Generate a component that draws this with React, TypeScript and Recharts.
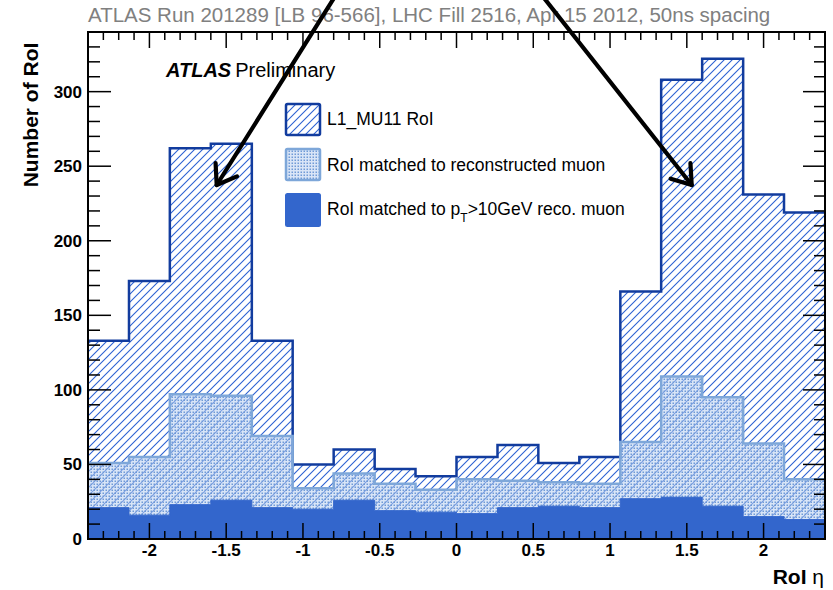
import React from 'react';
import { AreaChart, Area, XAxis, YAxis } from 'recharts';

// Histogram bin edges in RoI eta (18 bins)
const binEdges = [
  -2.4, -2.133, -1.867, -1.6, -1.333, -1.067, -0.8, -0.533, -0.267, 0,
  0.267, 0.533, 0.8, 1.067, 1.333, 1.6, 1.867, 2.133, 2.4,
];

// Counts per bin
const l1RoiCounts = [133, 173, 262, 265, 133, 50, 60, 47, 42, 55, 63, 51, 55, 166, 308, 322, 231, 219];
const recoMatchedCounts = [51, 55, 97, 96, 69, 34, 44, 37, 33, 40, 39, 38, 37, 65, 109, 95, 64, 40];
const ptMatchedCounts = [21, 16, 23, 26, 21, 20, 26, 19, 18, 17, 21, 22, 21, 27, 28, 22, 15, 13];

const etaMajorTicks = [-2, -1.5, -1, -0.5, 0, 0.5, 1, 1.5, 2];
const countMajorTicks = [0, 50, 100, 150, 200, 250, 300];

const etaMinorTicks = Array.from({ length: 49 }, (_, i) => Math.round((-2.4 + i * 0.1) * 10) / 10);
const countMinorTicks = Array.from({ length: 35 }, (_, i) => i * 10);

const ETA_RANGE: [number, number] = [-2.4, 2.4];
const COUNT_RANGE: [number, number] = [0, 340];

// step histogram: one point per edge, last bin repeated at the right edge
const histData = binEdges.map((eta, i) => {
  const k = Math.min(i, l1RoiCounts.length - 1);
  return { eta, l1: l1RoiCounts[k], reco: recoMatchedCounts[k], pt: ptMatchedCounts[k] };
});

// chart layout
const CHART_W = 833;
const CHART_H = 590;
const MARGIN = { top: 32, right: 8, bottom: 21, left: 28 };
const Y_AXIS_W = 60;
const X_AXIS_H = 30;
const PLOT_LEFT = MARGIN.left + Y_AXIS_W;
const PLOT_TOP = MARGIN.top;
const PLOT_W = CHART_W - PLOT_LEFT - MARGIN.right;
const PLOT_H = CHART_H - MARGIN.top - MARGIN.bottom - X_AXIS_H;

const DARK_BLUE = '#123c9e';
const HATCH_BLUE = '#2d62d2';
const LIGHT_BLUE = '#7ea7d9';
const SOLID_BLUE = '#3366cc';
const FONT = '"Liberation Sans", Arial, Helvetica, sans-serif';

const isMajor = (v: number, majors: number[]) => majors.some((m) => Math.abs(m - v) < 1e-6);

// ROOT style: ticks point inwards, mirrored on the opposite edge
function BottomTick({ x, y, payload }: any) {
  const major = isMajor(payload.value, etaMajorTicks);
  const len = major ? 16 : 8;
  const top = y - PLOT_H;
  return (
    <g>
      <line x1={x} x2={x} y1={y} y2={y - len} stroke="#000" strokeWidth={1.5} />
      <line x1={x} x2={x} y1={top} y2={top + len} stroke="#000" strokeWidth={1.5} />
      {major && (
        <text x={x} y={y + 17} textAnchor="middle" fontSize={17} fontWeight="bold" fill="#000" fontFamily={FONT}>
          {String(payload.value)}
        </text>
      )}
    </g>
  );
}

function LeftTick({ x, y, payload }: any) {
  const major = isMajor(payload.value, countMajorTicks);
  const right = x + PLOT_W;
  return (
    <g>
      <line x1={x} x2={x + (major ? 23 : 12)} y1={y} y2={y} stroke="#000" strokeWidth={1.5} />
      <line x1={right} x2={right - (major ? 22 : 11)} y1={y} y2={y} stroke="#000" strokeWidth={1.5} />
      {major && (
        <text x={x - 6} y={y + 6} textAnchor="end" fontSize={17} fontWeight="bold" fill="#000" fontFamily={FONT}>
          {String(payload.value)}
        </text>
      )}
    </g>
  );
}

function Arrow({ from, tip }: { from: [number, number]; tip: [number, number] }) {
  const dx = from[0] - tip[0];
  const dy = from[1] - tip[1];
  const len = Math.hypot(dx, dy);
  const ux = dx / len;
  const uy = dy / len;
  const a = (35 * Math.PI) / 180;
  const w = 22;
  const w1: [number, number] = [tip[0] + w * (ux * Math.cos(a) - uy * Math.sin(a)), tip[1] + w * (ux * Math.sin(a) + uy * Math.cos(a))];
  const w2: [number, number] = [tip[0] + w * (ux * Math.cos(a) + uy * Math.sin(a)), tip[1] + w * (-ux * Math.sin(a) + uy * Math.cos(a))];
  return (
    <g stroke="#000" strokeWidth={4.2} fill="none" strokeLinecap="round" strokeLinejoin="round">
      <line x1={from[0]} y1={from[1]} x2={tip[0]} y2={tip[1]} />
      <polyline points={`${w1[0]},${w1[1]} ${tip[0]},${tip[1]} ${w2[0]},${w2[1]}`} />
    </g>
  );
}

function Patterns({ prefix }: { prefix: string }) {
  return (
    <defs>
      <pattern id={`${prefix}Hatch`} patternUnits="userSpaceOnUse" width="8" height="8">
        <path d="M-2,2 L2,-2 M0,8 L8,0 M6,10 L10,6" stroke={HATCH_BLUE} strokeWidth={1.1} fill="none" />
      </pattern>
      <pattern id={`${prefix}Dots`} patternUnits="userSpaceOnUse" width="3" height="3">
        <rect width="3" height="3" fill="#b9cff0" fillOpacity={0.55} />
        <rect x="0.5" y="0.5" width="1.5" height="1.5" fill="#6f9ad6" />
      </pattern>
    </defs>
  );
}

function Overlay() {
  return (
    <svg
      width={CHART_W}
      height={CHART_H}
      style={{ position: 'absolute', left: 0, top: 0, pointerEvents: 'none' }}
      fontFamily={FONT}
    >
      <Patterns prefix="leg" />
      {/* plot frame */}
      <rect x={PLOT_LEFT} y={PLOT_TOP} width={PLOT_W} height={PLOT_H} fill="none" stroke="#000" strokeWidth={2} />

      <text x={88} y={22} fontSize={20.5} fill="#808080">
        ATLAS Run 201289 [LB 96-566], LHC Fill 2516, Apr 15 2012, 50ns spacing
      </text>

      <text x={166} y={77} fontSize={20} fill="#000">
        <tspan fontWeight="bold" fontStyle="italic">ATLAS</tspan>
        <tspan dx={4}>Preliminary</tspan>
      </text>

      {/* legend */}
      <rect x={286} y={104} width={34} height={31} fill="url(#legHatch)" stroke={DARK_BLUE} strokeWidth={2.5} rx={1.5} />
      <text x={327} y={125} fontSize={17.5} fill="#000">L1_MU11 RoI</text>
      <rect x={286} y={149} width={34} height={31} fill="url(#legDots)" stroke={LIGHT_BLUE} strokeWidth={2.5} rx={1.5} />
      <text x={327} y={170.5} fontSize={17.5} fill="#000">RoI matched to reconstructed muon</text>
      <rect x={285} y={193} width={36} height={34} fill={SOLID_BLUE} rx={2.5} />
      <text x={327} y={215} fontSize={17.5} fill="#000">
        RoI matched to p
        <tspan fontSize={12} dy={7}>T</tspan>
        <tspan dy={-7}>&gt;10GeV reco. muon</tspan>
      </text>

      {/* axis titles */}
      <text
        x={38}
        y={115}
        fontSize={21}
        fontWeight="bold"
        textAnchor="middle"
        fill="#000"
        transform="rotate(-90 38 115)"
      >
        Number of RoI
      </text>
      <text x={824} y={584} fontSize={21} fontWeight="bold" textAnchor="end" fill="#000">
        RoI <tspan fontWeight="normal">η</tspan>
      </text>

      <Arrow from={[334, -2]} tip={[216.7, 185]} />
      <Arrow from={[544, -2]} tip={[691.7, 185]} />
    </svg>
  );
}

export default function App() {
  return (
    <div style={{ position: 'absolute', left: 0, top: 0, width: CHART_W, height: CHART_H, background: '#fff', fontFamily: FONT }}>
      <AreaChart width={CHART_W} height={CHART_H} data={histData} margin={MARGIN}>
        <Patterns prefix="hist" />
        <Area
          type="stepAfter"
          dataKey="l1"
          stroke={DARK_BLUE}
          strokeWidth={2.5}
          fill="url(#histHatch)"
          fillOpacity={1}
          isAnimationActive={false}
        />
        <Area
          type="stepAfter"
          dataKey="reco"
          stroke={LIGHT_BLUE}
          strokeWidth={2.5}
          fill="url(#histDots)"
          fillOpacity={1}
          isAnimationActive={false}
        />
        <Area
          type="stepAfter"
          dataKey="pt"
          stroke={SOLID_BLUE}
          strokeWidth={1}
          fill={SOLID_BLUE}
          fillOpacity={1}
          isAnimationActive={false}
        />
        <XAxis
          dataKey="eta"
          type="number"
          domain={ETA_RANGE}
          allowDataOverflow
          ticks={etaMinorTicks}
          interval={0}
          tickSize={0}
          tickMargin={0}
          tickLine={false}
          tick={<BottomTick />}
          height={X_AXIS_H}
          axisLine={{ stroke: '#000', strokeWidth: 1.5 }}
        />
        <YAxis
          type="number"
          domain={COUNT_RANGE}
          allowDataOverflow
          ticks={countMinorTicks}
          interval={0}
          tickSize={0}
          tickMargin={0}
          tickLine={false}
          tick={<LeftTick />}
          width={Y_AXIS_W}
          axisLine={{ stroke: '#000', strokeWidth: 1.5 }}
        />
      </AreaChart>
      <Overlay />
    </div>
  );
}
